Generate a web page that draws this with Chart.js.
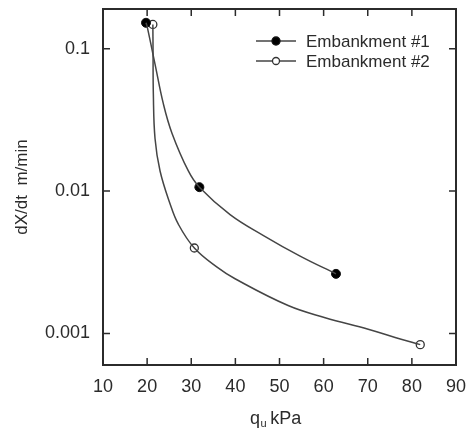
<!DOCTYPE html>
<html>
<head>
<meta charset="utf-8">
<script src="https://cdn.jsdelivr.net/npm/chart.js@4/dist/chart.umd.min.js"></script>
<style>
  html, body { margin: 0; padding: 0; background: #fff; }
  #wrap { width: 470px; height: 433px; }
</style>
</head>
<body>
<div id="wrap"><canvas id="rateChart" width="470" height="433"></canvas></div>
<script>
// measured points (markers)
const emb1X = [19.75, 31.84, 62.8];
const emb1Y = [0.152, 0.01065, 0.00262];
const emb2X = [21.3, 30.7, 81.9];
const emb2Y = [0.148, 0.00398, 0.000834];

// fitted curves
const curve1X = [19.75, 20.05, 21.79, 23.67, 25.65, 29.34, 31.84, 38.8, 46.28, 54.67, 62.8];
const curve1Y = [0.152, 0.141, 0.078, 0.0411, 0.0254, 0.01384, 0.01065, 0.00684, 0.00489, 0.00349, 0.00262];
const curve2X = [21.3, 21.34, 21.41, 21.79, 22.93, 25.19, 27.07, 30.7, 35.85, 39.93, 51.95, 60.34, 70.1, 76.2, 81.9];
const curve2Y = [0.148, 0.0993, 0.0482, 0.0234, 0.01383, 0.00815, 0.00585, 0.00398, 0.00292, 0.00242, 0.00157, 0.00129, 0.00107, 0.000937, 0.000834];

const xTicks = [10, 20, 30, 40, 50, 60, 70, 80, 90];
const yTicks = [0.001, 0.01, 0.1];
const yTickLabels = ['0.001', '0.01', '0.1'];

const seriesNames = ['Embankment #1', 'Embankment #2'];

const ink = '#2b2b2b';
const lineInk = '#454545';
const fontFamily = '"Liberation Sans", Arial, sans-serif';

const toPoints = (xs, ys) => xs.map((x, i) => ({ x: x, y: ys[i] }));

const noEdgePadding = scale => {
  scale.paddingTop = 0;
  scale.paddingBottom = 0;
  scale.paddingLeft = 0;
  scale.paddingRight = 0;
};

// frame, inward ticks, legend, x title
const decorPlugin = {
  id: 'decor',
  afterDraw(chart) {
    const ctx = chart.ctx;
    const area = chart.chartArea;
    const xs = chart.scales.x;
    const ys = chart.scales.y;
    ctx.save();
    ctx.strokeStyle = ink;
    ctx.lineWidth = 2;
    ctx.strokeRect(area.left, area.top, area.right - area.left, area.bottom - area.top);

    ctx.lineWidth = 1.5;
    const len = 7;
    ctx.beginPath();
    xTicks.forEach(v => {
      const px = xs.getPixelForValue(v);
      ctx.moveTo(px, area.bottom);
      ctx.lineTo(px, area.bottom - len);
      ctx.moveTo(px, area.top);
      ctx.lineTo(px, area.top + len);
    });
    yTicks.forEach(v => {
      const py = ys.getPixelForValue(v);
      ctx.moveTo(area.left, py);
      ctx.lineTo(area.left + len, py);
      ctx.moveTo(area.right, py);
      ctx.lineTo(area.right - len, py);
    });
    ctx.stroke();

    // legend
    const markerSets = chart.data.datasets.filter(d => d.legendItem);
    markerSets.forEach((ds, i) => {
      const y = 41 + i * 20;
      ctx.strokeStyle = lineInk;
      ctx.lineWidth = 1.5;
      ctx.beginPath();
      ctx.moveTo(256, y);
      ctx.lineTo(296, y);
      ctx.stroke();
      ctx.beginPath();
      ctx.arc(276, y, i === 0 ? 4 : 3.5, 0, Math.PI * 2);
      ctx.fillStyle = ds.pointBackgroundColor;
      ctx.fill();
      ctx.strokeStyle = ds.pointBorderColor;
      ctx.lineWidth = 1.3;
      ctx.stroke();
      ctx.fillStyle = ink;
      ctx.font = '17px ' + fontFamily;
      ctx.textAlign = 'left';
      ctx.textBaseline = 'middle';
      ctx.fillText(ds.label, 306, y + 1);
    });

    // x axis title with subscript
    ctx.fillStyle = ink;
    ctx.textBaseline = 'alphabetic';
    ctx.textAlign = 'left';
    ctx.font = '18px ' + fontFamily;
    const baseY = 424;
    let cx = 250;
    ctx.fillText('q', cx, baseY);
    cx += ctx.measureText('q').width;
    ctx.font = '11px ' + fontFamily;
    ctx.fillText('u', cx + 0.5, baseY + 3);
    cx += ctx.measureText('u').width + 4;
    ctx.font = '18px ' + fontFamily;
    ctx.fillText('kPa', cx, baseY);
    ctx.restore();
  }
};

const ctx = document.getElementById('rateChart');
new Chart(ctx, {
  type: 'scatter',
  data: {
    datasets: [
      {
        label: seriesNames[0] + ' curve',
        data: toPoints(curve1X, curve1Y),
        showLine: true,
        borderColor: lineInk,
        borderWidth: 1.5,
        pointRadius: 0,
        tension: 0.4,
        fill: false
      },
      {
        label: seriesNames[1] + ' curve',
        data: toPoints(curve2X, curve2Y),
        showLine: true,
        borderColor: lineInk,
        borderWidth: 1.5,
        pointRadius: 0,
        tension: 0.4,
        fill: false
      },
      {
        label: seriesNames[0],
        legendItem: true,
        data: toPoints(emb1X, emb1Y),
        showLine: false,
        pointRadius: 4.5,
        pointBackgroundColor: '#000',
        pointBorderColor: '#111',
        pointBorderWidth: 1
      },
      {
        label: seriesNames[1],
        legendItem: true,
        data: toPoints(emb2X, emb2Y),
        showLine: false,
        pointRadius: 4,
        pointBackgroundColor: '#fff',
        pointBorderColor: '#333',
        pointBorderWidth: 1.3
      }
    ]
  },
  options: {
    responsive: false,
    animation: false,
    layout: { padding: { top: 9, right: 14, left: 0, bottom: 0 } },
    plugins: {
      legend: { display: false },
      tooltip: { enabled: false }
    },
    scales: {
      x: {
        type: 'linear',
        min: 10,
        max: 90,
        afterBuildTicks: scale => { scale.ticks = xTicks.map(v => ({ value: v })); },
        afterFit: scale => { scale.height = 68; noEdgePadding(scale); },
        grid: { display: false, drawTicks: false },
        border: { display: false },
        ticks: {
          padding: 11,
          color: ink,
          font: { family: fontFamily, size: 18 },
          maxRotation: 0,
          callback: v => String(v)
        },
        title: { display: false }
      },
      y: {
        type: 'logarithmic',
        min: 0.00064,
        max: 0.19,
        afterBuildTicks: scale => { scale.ticks = yTicks.map(v => ({ value: v })); },
        afterFit: scale => { scale.width = 103; noEdgePadding(scale); },
        grid: { display: false, drawTicks: false },
        border: { display: false },
        ticks: {
          padding: 13,
          color: ink,
          font: { family: fontFamily, size: 18 },
          callback: v => {
            const i = yTicks.indexOf(v);
            return i >= 0 ? yTickLabels[i] : '';
          }
        },
        title: {
          display: true,
          text: 'dX/dt  m/min',
          color: ink,
          font: { family: fontFamily, size: 17 },
          padding: { top: 12, bottom: 0 }
        }
      }
    }
  },
  plugins: [decorPlugin]
});
</script>
</body>
</html>
